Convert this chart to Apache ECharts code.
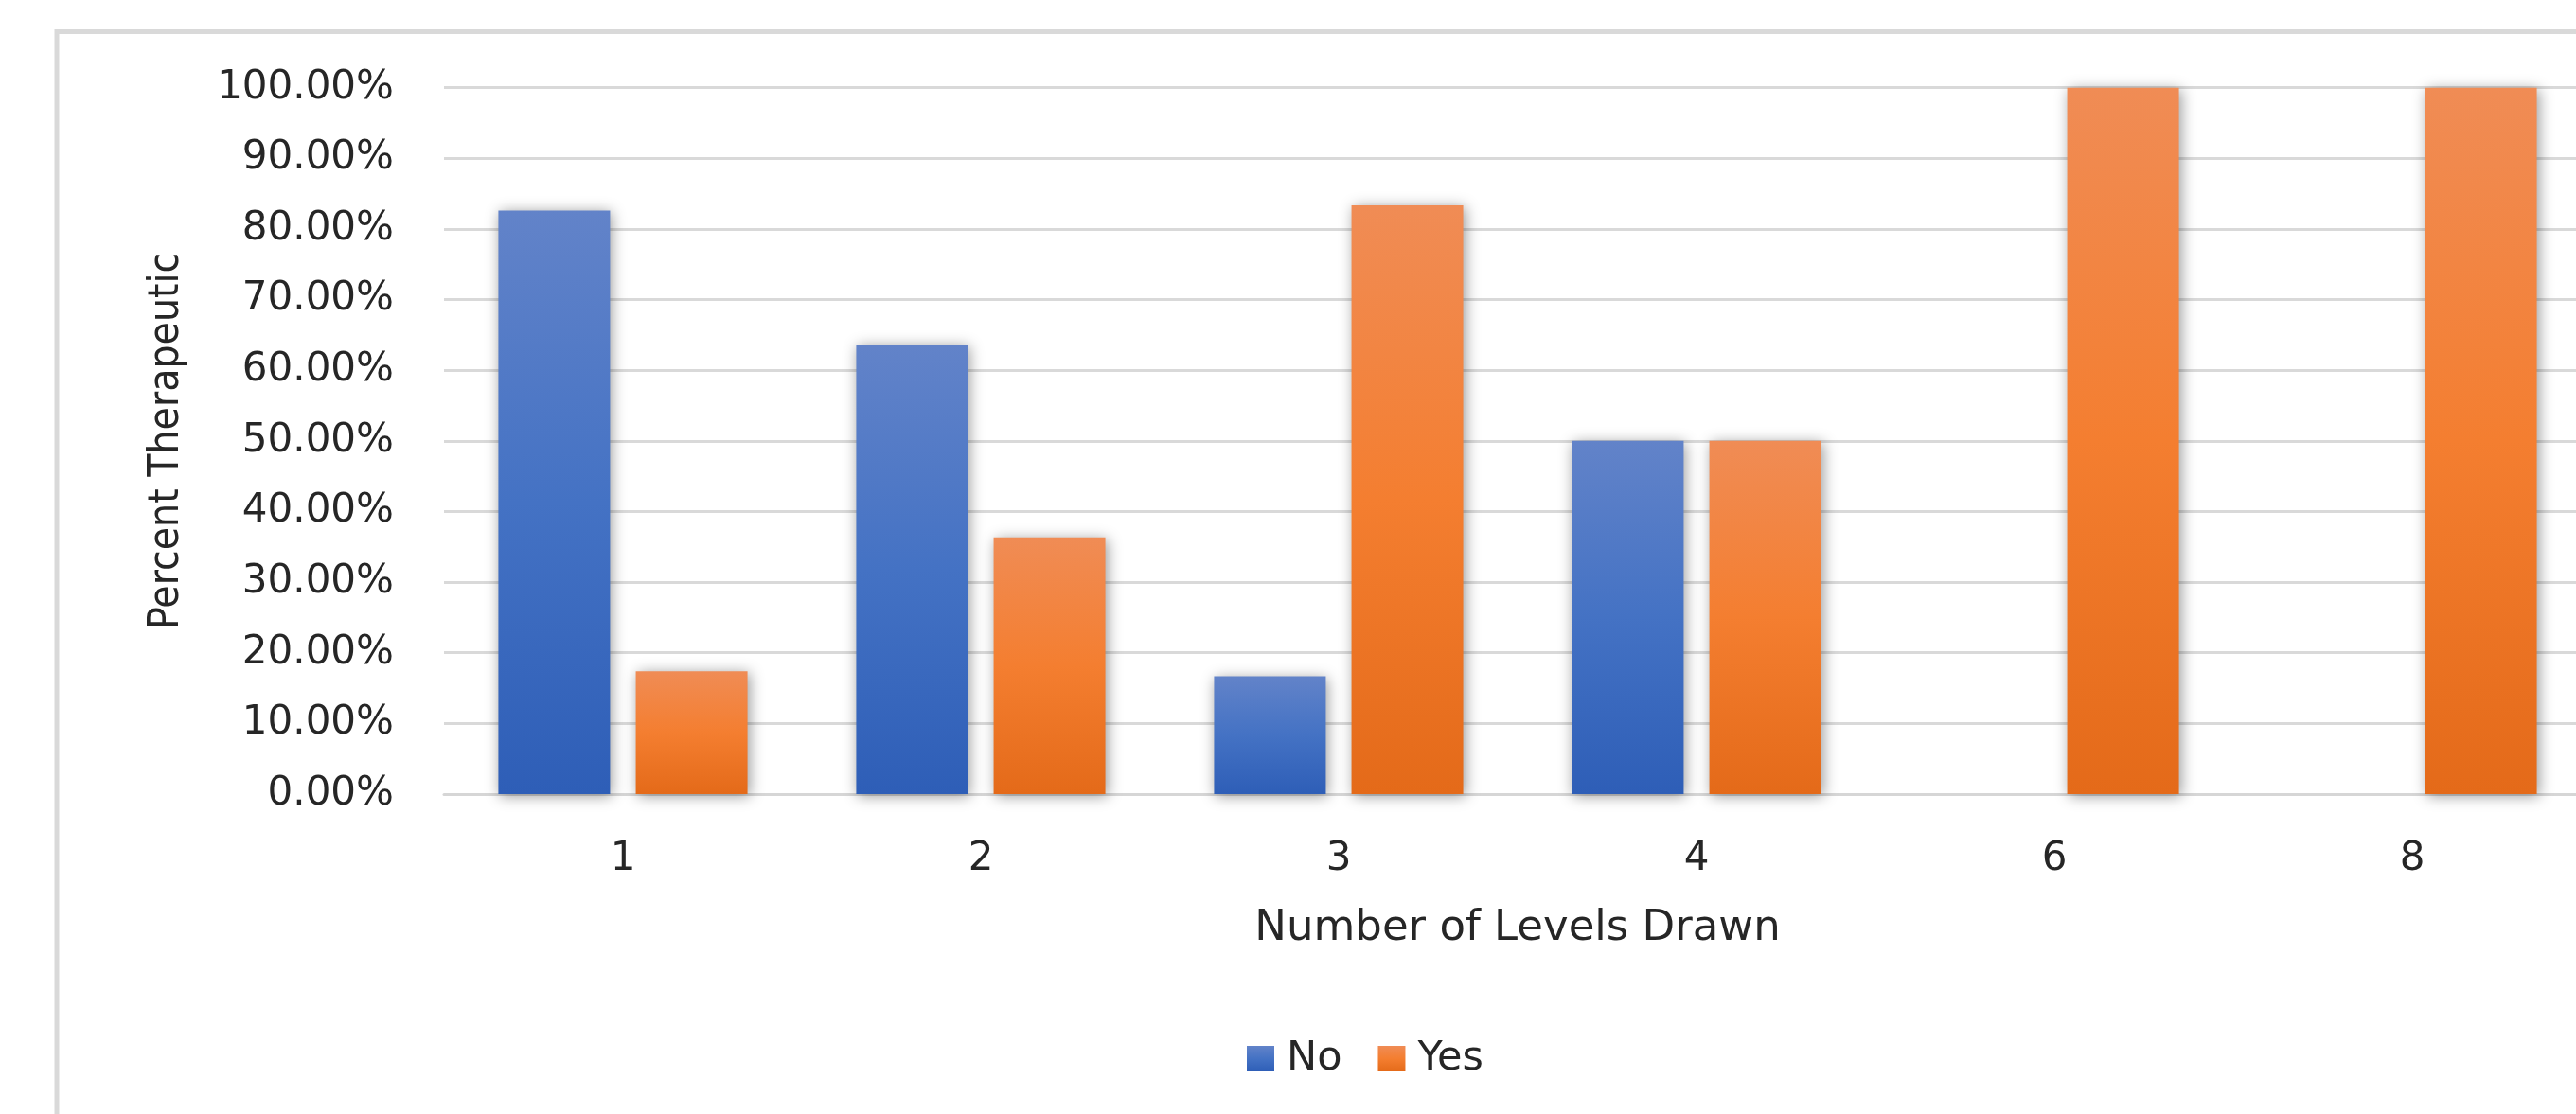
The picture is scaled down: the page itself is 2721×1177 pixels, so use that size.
<!DOCTYPE html>
<html>
<head>
<meta charset="utf-8">
<script src="https://cdn.jsdelivr.net/npm/echarts@6.0.0/dist/echarts.min.js"></script>
<style>
html,body{margin:0;padding:0;background:#fff;overflow:hidden;}
#chart{width:2760px;height:1177px;}
</style>
</head>
<body>
<div id="chart"></div>
<script>
const categories = ['1', '2', '3', '4', '6', '8'];
const seriesNames = ['No', 'Yes'];
const noValues = [0.8261, 0.6364, 0.1667, 0.5, 0, 0];
const yesValues = [0.1739, 0.3636, 0.8333, 0.5, 1, 1];
const yTicks = { min: 0, max: 1, interval: 0.1 };

const FONT = '"DejaVu Sans", sans-serif';
const TEXT = '#262626';

const blue = new echarts.graphic.LinearGradient(0, 0, 0, 1, [
  { offset: 0, color: '#6283C9' },
  { offset: 0.5, color: '#4472C4' },
  { offset: 1, color: '#2E5EB7' }
]);
const orange = new echarts.graphic.LinearGradient(0, 0, 0, 1, [
  { offset: 0, color: '#F08C55' },
  { offset: 0.5, color: '#F47E30' },
  { offset: 1, color: '#E46A19' }
]);

const chart = echarts.init(document.getElementById('chart'), null, { renderer: 'canvas' });
chart.setOption({
  backgroundColor: '#ffffff',
  animation: false,
  graphic: [{
    type: 'rect',
    shape: { x: 60, y: 33.5, width: 3000, height: 2000 },
    style: { fill: 'none', stroke: '#D9D9D9', lineWidth: 5 },
    silent: true,
    z: -10
  }],
  legend: {
    data: seriesNames,
    left: 1312,
    top: 1092,
    itemWidth: 29,
    itemHeight: 27,
    itemGap: 38,
    icon: 'rect',
    textStyle: { fontFamily: FONT, fontSize: 43, color: TEXT, padding: [0, 0, 0, 8] }
  },
  grid: { left: 469, top: 92.7, width: 2268, height: 746.3, containLabel: false },
  xAxis: {
    type: 'category',
    data: categories,
    name: 'Number of Levels Drawn',
    nameLocation: 'middle',
    nameGap: 120,
    nameTextStyle: { fontFamily: FONT, fontSize: 45, color: TEXT },
    axisLine: { show: true, lineStyle: { color: '#D6D6D6', width: 3 } },
    axisTick: { show: false },
    axisLabel: { fontFamily: FONT, fontSize: 42, color: TEXT, margin: 48 },
    splitLine: { show: false }
  },
  yAxis: {
    type: 'value',
    min: yTicks.min,
    max: yTicks.max,
    interval: yTicks.interval,
    name: 'Percent Therapeutic',
    nameLocation: 'middle',
    nameRotate: 90,
    nameGap: 270,
    nameTextStyle: { fontFamily: '"DejaVu Sans Condensed", Lato, sans-serif', fontSize: 44, color: TEXT },
    axisLine: { show: false },
    axisTick: { show: false },
    axisLabel: {
      fontFamily: FONT, fontSize: 42, color: TEXT, margin: 53,
      formatter: v => (v * 100).toFixed(2) + '%'
    },
    splitLine: { show: true, lineStyle: { color: '#D9D9D9', width: 3 } }
  },
  series: [
    {
      name: seriesNames[0],
      type: 'bar',
      data: noValues,
      barWidth: 118,
      barGap: '23%',
      itemStyle: {
        color: blue,
        shadowBlur: 14,
        shadowColor: 'rgba(0,0,0,0.4)',
        shadowOffsetX: 2,
        shadowOffsetY: 2
      }
    },
    {
      name: seriesNames[1],
      type: 'bar',
      data: yesValues,
      barWidth: 118,
      barGap: '23%',
      itemStyle: {
        color: orange,
        shadowBlur: 14,
        shadowColor: 'rgba(0,0,0,0.4)',
        shadowOffsetX: 2,
        shadowOffsetY: 2
      }
    }
  ]
});
</script>
</body>
</html>
